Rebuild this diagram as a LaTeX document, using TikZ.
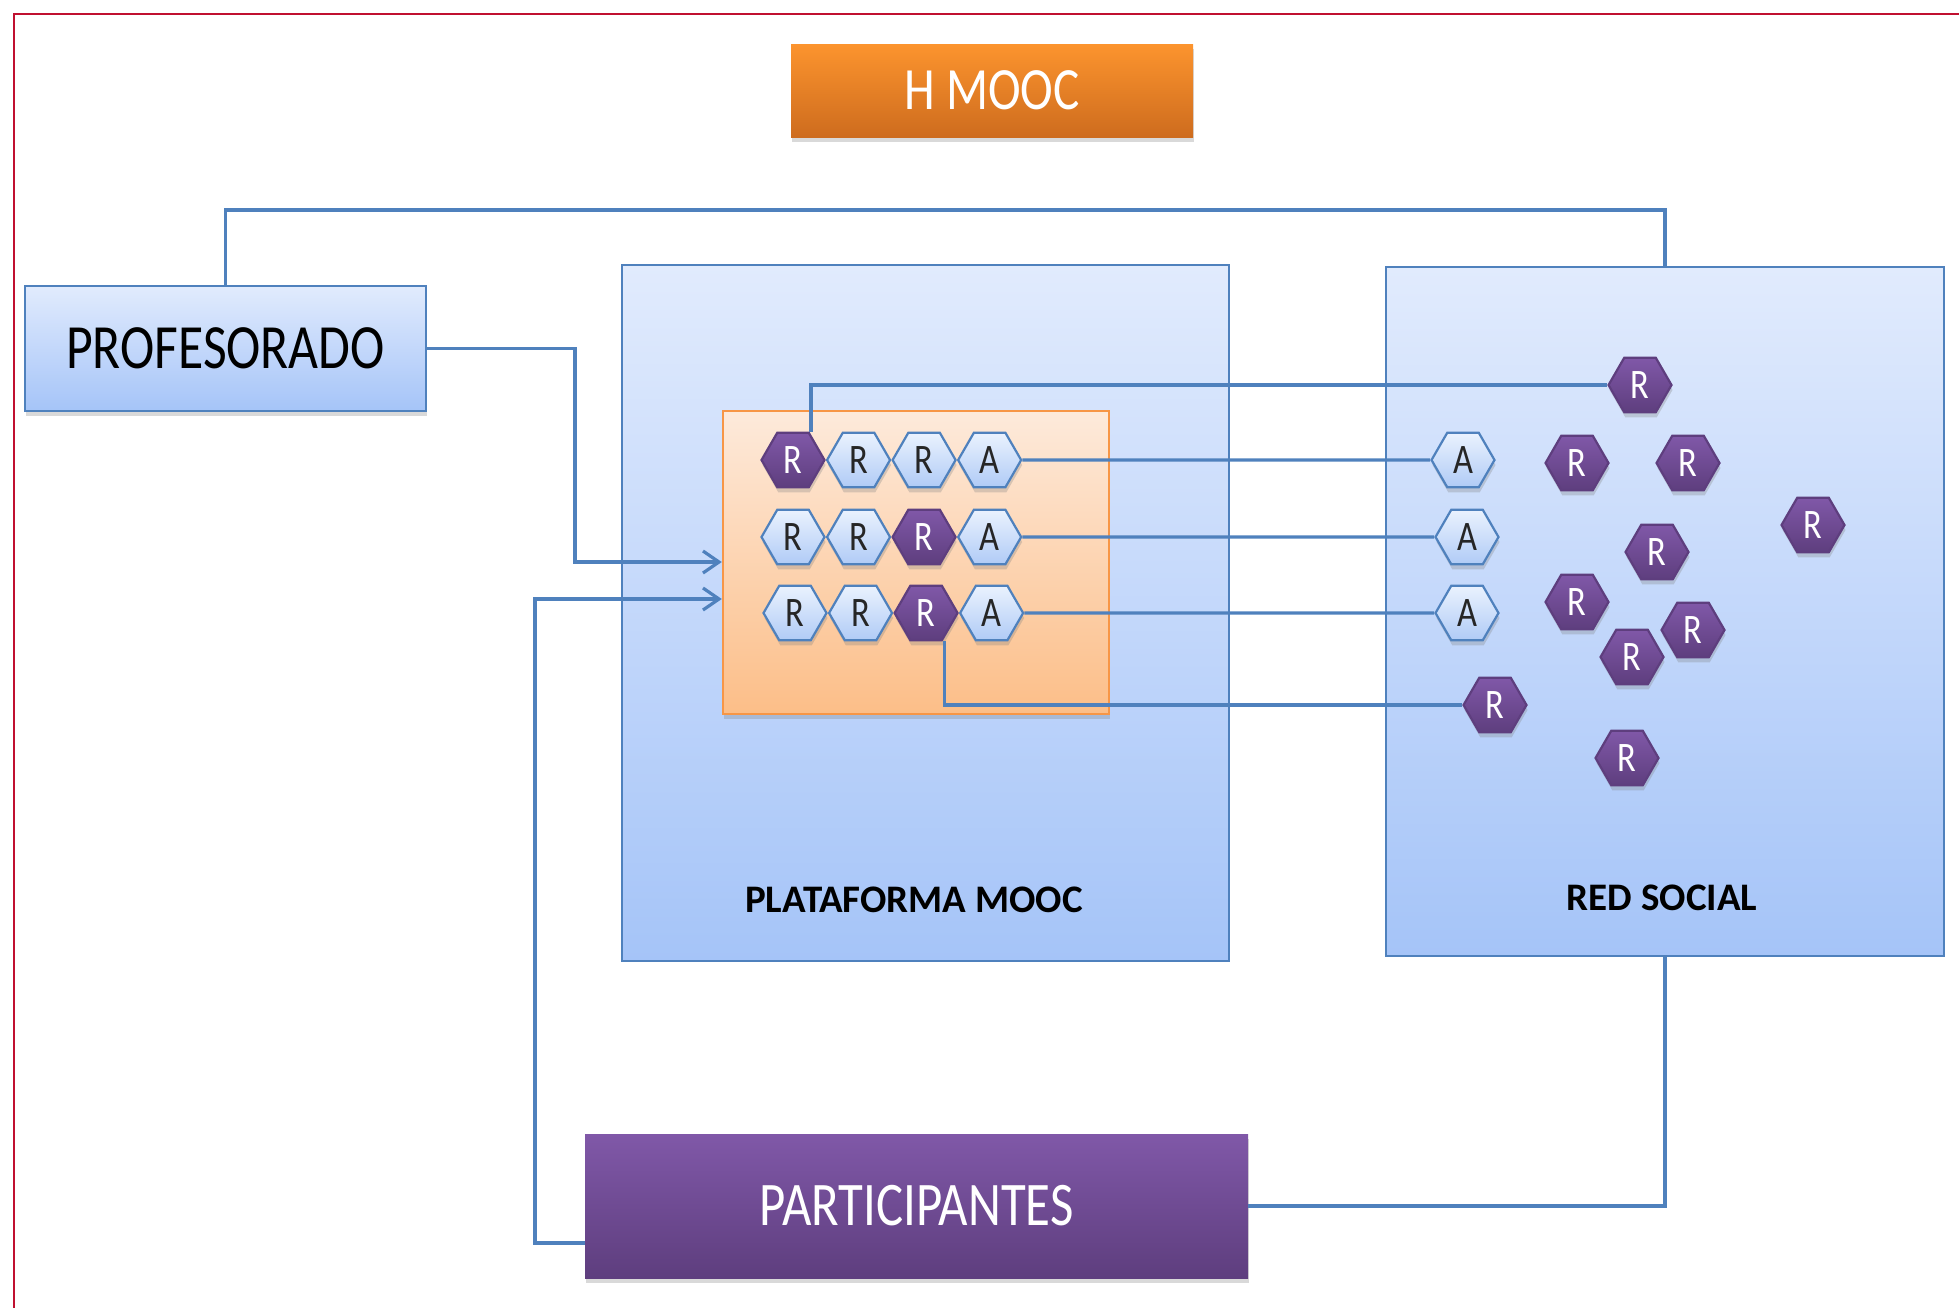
\documentclass[tikz,border=0pt]{standalone}
\usepackage{fontspec}
\setmainfont{Carlito}
\newfontfamily\narrowfont[FakeStretch=0.82]{Carlito}
\usetikzlibrary{arrows.meta,positioning,shadows,shapes.geometric}
\definecolor{lineblue}{RGB}{79,129,189}
\definecolor{boxtop}{RGB}{225,235,253}
\definecolor{boxbot}{RGB}{165,196,248}
\definecolor{hextop}{RGB}{234,242,254}
\definecolor{hexbot}{RGB}{176,203,246}
\definecolor{purptop}{RGB}{128,88,168}
\definecolor{purpbot}{RGB}{94,62,126}
\definecolor{orgtop}{RGB}{253,234,219}
\definecolor{orgbot}{RGB}{252,190,136}
\definecolor{orgline}{RGB}{247,150,70}
\definecolor{hmtop}{RGB}{252,148,46}
\definecolor{hmbot}{RGB}{206,108,30}
\definecolor{framered}{RGB}{192,16,48}
\tikzset{
mybox/.style={
  rectangle,
  draw=lineblue,
  line width=1.2pt,
  top color=boxtop,
  bottom color=boxbot,
  inner sep=0pt,
  },
myshadow/.style={
  drop shadow={shadow xshift=0.5pt, shadow yshift=-2.5pt, opacity=0.3}
  }
}
\tikzset{
hexlight/.style={
  regular polygon,
  regular polygon sides=6,
  minimum size=31.5pt,
  inner sep=0pt,
  draw=lineblue,
  line width=1.1pt,
  top color=hextop,
  bottom color=hexbot,
  text=black!85,
  font=\narrowfont\fontsize{21}{21}\selectfont,
  myshadow,
  },
hexdark/.style={
  hexlight,
  draw=purpbot,
  top color=purptop,
  bottom color=purpbot,
  text=white,
  }
}
\tikzset{
myline/.style={
  line width=1.6pt,
  draw=lineblue,
  },
myarrow/.style={
  myline,
  -{Straight Barb[length=8pt,width=11pt]}
  }
}

\begin{document}
\begin{tikzpicture}[x=0.5pt,y=-0.5pt]
    \useasboundingbox (0,0) rectangle (1959,1308);
    \draw[framered, line width=1.2pt] (1959,14) -- (14,14) -- (14,1308);

    % title
    \node[rectangle, minimum width=201pt, minimum height=46.5pt, top color=hmtop, bottom color=hmbot,
          text=white, font=\narrowfont\fontsize{30}{30}\selectfont, myshadow] (hmooc) at (992,90.5) {H MOOC};

    % containers
    \node[mybox, minimum width=303.5pt, minimum height=348pt] (plat) at (925.5,613) {};
    \node[mybox, minimum width=279pt, minimum height=344.5pt] (red) at (1665,611.5) {};
    \node[font=\bfseries\fontsize{19.5}{19.5}\selectfont] (plat_lbl) at (914,900) {PLATAFORMA MOOC};
    \node[font=\bfseries\fontsize{19.5}{19.5}\selectfont] (red_lbl) at (1662,898) {RED SOCIAL};

    % actors
    \node[mybox, myshadow, minimum width=200.5pt, minimum height=62.5pt,
          font=\narrowfont\fontsize{31.5}{31.5}\selectfont] (prof) at (225.5,348.5) {PROFESORADO};
    \node[rectangle, minimum width=331.5pt, minimum height=72pt, top color=purptop, bottom color=purpbot,
          text=white, font=\narrowfont\fontsize{31}{31}\selectfont, myshadow] (part) at (916.5,1206) {PARTICIPANTES};

    % course module
    \node[rectangle, draw=orgline, line width=1.2pt, top color=orgtop, bottom color=orgbot,
          minimum width=193pt, minimum height=151.5pt, myshadow] (mod) at (916,562.5) {};

    \node[hexdark] (r11) at (793,460) {R};
    \node[hexlight, right=0pt of r11] (r12) {R};
    \node[hexlight, right=0pt of r12] (r13) {R};
    \node[hexlight, right=0pt of r13] (a1) {A};

    \node[hexlight] (r21) at (793,537) {R};
    \node[hexlight, right=0pt of r21] (r22) {R};
    \node[hexdark, right=0pt of r22] (r23) {R};
    \node[hexlight, right=0pt of r23] (a2) {A};

    \node[hexlight] (r31) at (795,613) {R};
    \node[hexlight, right=0pt of r31] (r32) {R};
    \node[hexdark, right=0pt of r32] (r33) {R};
    \node[hexlight, right=0pt of r33] (a3) {A};

    % social network part
    \node[hexlight] (ra1) at (1463,460) {A};
    \node[hexlight] (ra2) at (1467,537) {A};
    \node[hexlight] (ra3) at (1467,613) {A};
    \node[hexdark] (rs1) at (1640,385) {R};
    \node[hexdark] (rs2) at (1577,463) {R};
    \node[hexdark] (rs3) at (1688,463) {R};
    \node[hexdark] (rs4) at (1813,525) {R};
    \node[hexdark] (rs5) at (1657,552) {R};
    \node[hexdark] (rs6) at (1577,602) {R};
    \node[hexdark] (rs7) at (1693,630) {R};
    \node[hexdark] (rs8) at (1632,657) {R};
    \node[hexdark] (rs9) at (1495,705) {R};
    \node[hexdark] (rs10) at (1627,758) {R};

    % helper points
    \coordinate (topbar) at (0,210);
    \coordinate (in1) at (575,562);
    \coordinate (in2) at (535,599);

    % edges
    \draw[myline] (prof.north) -- (prof.north |- topbar) -| (red.north);
    \draw[myarrow] (prof.east) -| (in1) -- (in1 -| mod.west);
    \draw[myarrow] ([yshift=-18.5pt]part.west) -| (in2) -- (in2 -| mod.west);
    \draw[myline] (part.east) -| (red.south);

    \draw[myline] ([xshift=9pt]r11.north) |- (rs1.west);
    \draw[myline] (a1) -- (ra1);
    \draw[myline] (a2) -- (ra2);
    \draw[myline] (a3) -- (ra3);
    \draw[myline] ([xshift=9pt]r33.south) |- (rs9.west);
\end{tikzpicture}
\end{document}
